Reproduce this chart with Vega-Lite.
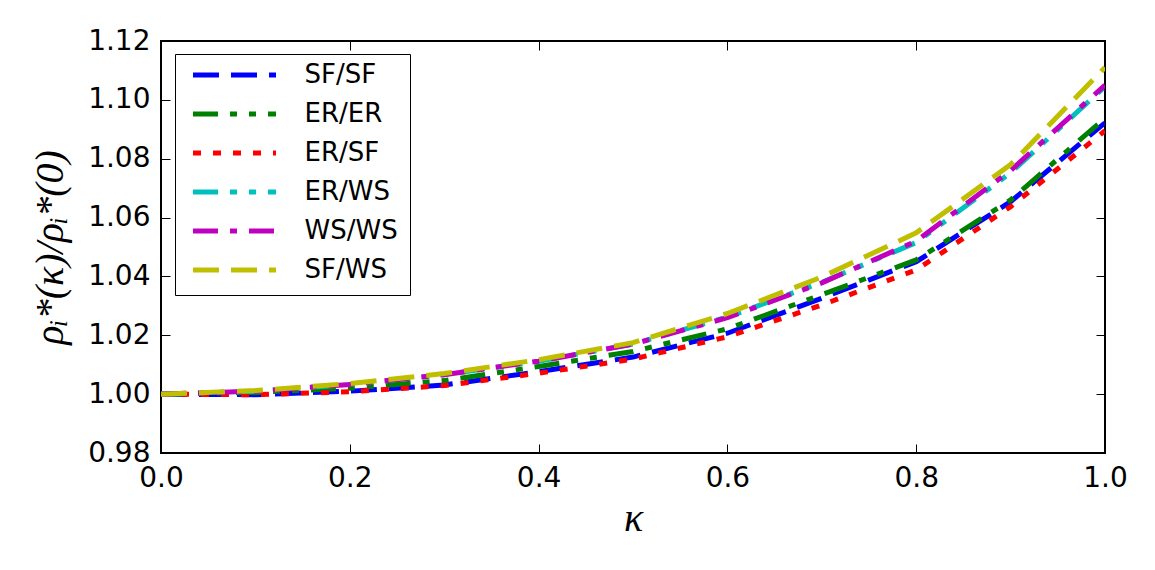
{
  "$schema": "https://vega.github.io/schema/vega-lite/v6.json",
  "width": 944,
  "height": 412,
  "autosize": {"type": "none"},
  "padding": {"left": 161, "top": 41, "right": 50, "bottom": 117},
  "background": "white",
  "config": {
    "view": {"stroke": "black", "strokeWidth": 2},
    "axis": {
      "domain": false,
      "grid": false,
      "tickColor": "black",
      "tickWidth": 1,
      "tickSize": -9,
      "labelFlush": false,
      "labelFont": "DejaVu Sans",
      "labelFontSize": 28,
      "labelColor": "black"
    },
    "legend": {
      "title": null,
      "orient": "none",
      "legendX": 14,
      "legendY": 13,
      "padding": 12,
      "fillColor": "white",
      "strokeColor": "black",
      "cornerRadius": 0,
      "symbolType": "stroke",
      "symbolSize": 6889,
      "symbolStrokeWidth": 5,
      "symbolOffset": 3.5,
      "clipHeight": 18,
      "rowPadding": 13,
      "labelOffset": 26,
      "labelFont": "DejaVu Sans",
      "labelFontSize": 26,
      "labelColor": "black",
      "labelLimit": 300
    }
  },
  "data": {
    "values": [
      {"network": "SF/SF", "kappa": 0.0, "ratio": 1.0000},
      {"network": "SF/SF", "kappa": 0.1, "ratio": 0.9998},
      {"network": "SF/SF", "kappa": 0.2, "ratio": 1.0010},
      {"network": "SF/SF", "kappa": 0.3, "ratio": 1.0031},
      {"network": "SF/SF", "kappa": 0.4, "ratio": 1.0076},
      {"network": "SF/SF", "kappa": 0.5, "ratio": 1.0126},
      {"network": "SF/SF", "kappa": 0.6, "ratio": 1.0207},
      {"network": "SF/SF", "kappa": 0.7, "ratio": 1.0326},
      {"network": "SF/SF", "kappa": 0.8, "ratio": 1.0450},
      {"network": "SF/SF", "kappa": 0.9, "ratio": 1.0654},
      {"network": "SF/SF", "kappa": 1.0, "ratio": 1.0922},
      {"network": "ER/ER", "kappa": 0.0, "ratio": 1.0000},
      {"network": "ER/ER", "kappa": 0.1, "ratio": 1.0006},
      {"network": "ER/ER", "kappa": 0.2, "ratio": 1.0020},
      {"network": "ER/ER", "kappa": 0.3, "ratio": 1.0046},
      {"network": "ER/ER", "kappa": 0.4, "ratio": 1.0094},
      {"network": "ER/ER", "kappa": 0.5, "ratio": 1.0145},
      {"network": "ER/ER", "kappa": 0.6, "ratio": 1.0222},
      {"network": "ER/ER", "kappa": 0.7, "ratio": 1.0338},
      {"network": "ER/ER", "kappa": 0.8, "ratio": 1.0456},
      {"network": "ER/ER", "kappa": 0.9, "ratio": 1.0660},
      {"network": "ER/ER", "kappa": 1.0, "ratio": 1.0938},
      {"network": "ER/SF", "kappa": 0.0, "ratio": 1.0000},
      {"network": "ER/SF", "kappa": 0.1, "ratio": 0.9998},
      {"network": "ER/SF", "kappa": 0.2, "ratio": 1.0008},
      {"network": "ER/SF", "kappa": 0.3, "ratio": 1.0029},
      {"network": "ER/SF", "kappa": 0.4, "ratio": 1.0071},
      {"network": "ER/SF", "kappa": 0.5, "ratio": 1.0119},
      {"network": "ER/SF", "kappa": 0.6, "ratio": 1.0195},
      {"network": "ER/SF", "kappa": 0.7, "ratio": 1.0303},
      {"network": "ER/SF", "kappa": 0.8, "ratio": 1.0422},
      {"network": "ER/SF", "kappa": 0.9, "ratio": 1.0637},
      {"network": "ER/SF", "kappa": 1.0, "ratio": 1.0895},
      {"network": "ER/WS", "kappa": 0.0, "ratio": 1.0000},
      {"network": "ER/WS", "kappa": 0.1, "ratio": 1.0010},
      {"network": "ER/WS", "kappa": 0.2, "ratio": 1.0033},
      {"network": "ER/WS", "kappa": 0.3, "ratio": 1.0066},
      {"network": "ER/WS", "kappa": 0.4, "ratio": 1.0112},
      {"network": "ER/WS", "kappa": 0.5, "ratio": 1.0170},
      {"network": "ER/WS", "kappa": 0.6, "ratio": 1.0262},
      {"network": "ER/WS", "kappa": 0.7, "ratio": 1.0380},
      {"network": "ER/WS", "kappa": 0.8, "ratio": 1.0515},
      {"network": "ER/WS", "kappa": 0.9, "ratio": 1.0752},
      {"network": "ER/WS", "kappa": 1.0, "ratio": 1.1045},
      {"network": "WS/WS", "kappa": 0.0, "ratio": 1.0000},
      {"network": "WS/WS", "kappa": 0.1, "ratio": 1.0010},
      {"network": "WS/WS", "kappa": 0.2, "ratio": 1.0033},
      {"network": "WS/WS", "kappa": 0.3, "ratio": 1.0066},
      {"network": "WS/WS", "kappa": 0.4, "ratio": 1.0112},
      {"network": "WS/WS", "kappa": 0.5, "ratio": 1.0170},
      {"network": "WS/WS", "kappa": 0.6, "ratio": 1.0260},
      {"network": "WS/WS", "kappa": 0.7, "ratio": 1.0378},
      {"network": "WS/WS", "kappa": 0.8, "ratio": 1.0520},
      {"network": "WS/WS", "kappa": 0.9, "ratio": 1.0760},
      {"network": "WS/WS", "kappa": 1.0, "ratio": 1.1050},
      {"network": "SF/WS", "kappa": 0.0, "ratio": 1.0000},
      {"network": "SF/WS", "kappa": 0.1, "ratio": 1.0012},
      {"network": "SF/WS", "kappa": 0.2, "ratio": 1.0036},
      {"network": "SF/WS", "kappa": 0.3, "ratio": 1.0070},
      {"network": "SF/WS", "kappa": 0.4, "ratio": 1.0117},
      {"network": "SF/WS", "kappa": 0.5, "ratio": 1.0175},
      {"network": "SF/WS", "kappa": 0.6, "ratio": 1.0274},
      {"network": "SF/WS", "kappa": 0.7, "ratio": 1.0398},
      {"network": "SF/WS", "kappa": 0.8, "ratio": 1.0548},
      {"network": "SF/WS", "kappa": 0.9, "ratio": 1.0780},
      {"network": "SF/WS", "kappa": 1.0, "ratio": 1.1110}
    ]
  },
  "layer": [
    {
      "mark": {"type": "line", "strokeWidth": 5, "strokeCap": "butt", "clip": true},
      "encoding": {
        "x": {
          "field": "kappa",
          "type": "quantitative",
          "scale": {"domain": [0, 1], "nice": false, "zero": false},
          "axis": {
            "orient": "bottom",
            "values": [0, 0.2, 0.4, 0.6, 0.8, 1.0],
            "format": ".1f",
            "labelPadding": 20,
            "title": "κ",
            "titleFont": "Liberation Serif",
            "titleFontStyle": "italic",
            "titleFontWeight": "normal",
            "titleFontSize": 40,
            "titleColor": "black",
            "titlePadding": 6
          }
        },
        "y": {
          "field": "ratio",
          "type": "quantitative",
          "scale": {"domain": [0.98, 1.12], "nice": false, "zero": false},
          "axis": {
            "orient": "left",
            "values": [0.98, 1.0, 1.02, 1.04, 1.06, 1.08, 1.1, 1.12],
            "format": ".2f",
            "labelPadding": 20,
            "title": "ρᵢ*(κ)/ρᵢ*(0)",
            "titleFont": "Liberation Serif",
            "titleFontStyle": "italic",
            "titleFontWeight": "normal",
            "titleFontSize": 40,
            "titleColor": "black",
            "titlePadding": 17
          }
        },
        "color": {
          "field": "network",
          "type": "nominal",
          "scale": {
            "domain": ["SF/SF", "ER/ER", "ER/SF", "ER/WS", "WS/WS", "SF/WS"],
            "range": ["#0000ff", "#008000", "#ff0000", "#00bfbf", "#bf00bf", "#bfbf00"]
          },
          "legend": {
            "title": null,
            "orient": "none",
            "legendX": 14,
            "legendY": 13
          }
        },
        "strokeDash": {
          "field": "network",
          "type": "nominal",
          "scale": {
            "domain": ["SF/SF", "ER/ER", "ER/SF", "ER/WS", "WS/WS", "SF/WS"],
            "range": [[26, 12], [25, 12, 7, 12, 7, 12], [8, 12], [25, 12, 7, 12, 7, 12], [25, 12, 7, 12], [26, 12]]
          },
          "legend": {
            "title": null,
            "orient": "none",
            "legendX": 14,
            "legendY": 13
          }
        }
      }
    },
    {
      "mark": {"type": "point", "opacity": 0},
      "encoding": {
        "x": {
          "field": "kappa",
          "type": "quantitative",
          "axis": {"orient": "top", "values": [0, 0.2, 0.4, 0.6, 0.8, 1.0], "labels": false, "title": null}
        },
        "y": {
          "field": "ratio",
          "type": "quantitative",
          "axis": {"orient": "right", "values": [0.98, 1.0, 1.02, 1.04, 1.06, 1.08, 1.1, 1.12], "labels": false, "title": null}
        }
      }
    }
  ],
  "resolve": {"axis": {"x": "independent", "y": "independent"}}
}
